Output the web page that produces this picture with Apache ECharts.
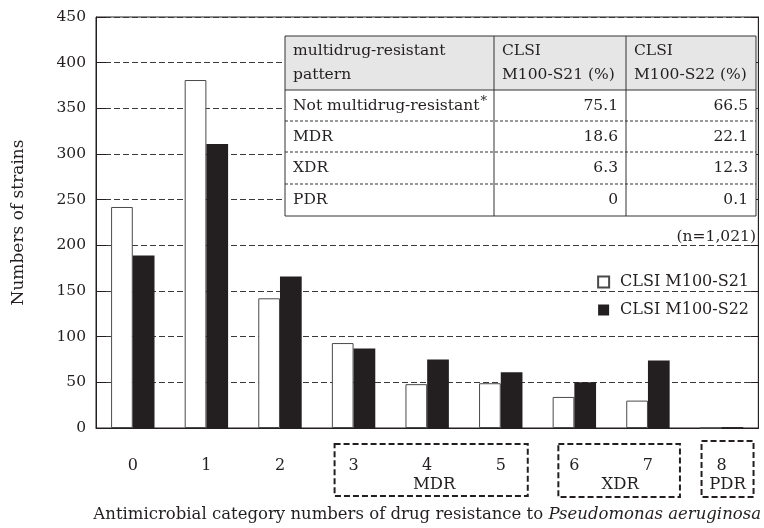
<!DOCTYPE html>
<html>
<head>
<meta charset="utf-8">
<script src="https://cdn.jsdelivr.net/npm/echarts@6/dist/echarts.min.js"></script>
<style>
  html, body { margin: 0; padding: 0; background: #fff; }
  #chart { width: 764px; height: 528px; }
</style>
</head>
<body>
<div id="chart"></div>
<script>
// category numbers 0..8 and strain counts
var categories = ['0', '1', '2', '3', '4', '5', '6', '7', '8'];
var s21Counts = [242, 381, 142, 93, 48, 49, 34, 30, 0];
var s22Counts = [189, 311, 166, 87, 75, 61, 50, 74, 1];
var seriesNames = ['CLSI M100-S21', 'CLSI M100-S22'];

// inset table
var tableHeader = [['multidrug-resistant', 'pattern'], ['CLSI', 'M100-S21 (%)'], ['CLSI', 'M100-S22 (%)']];
var patternNames = ['Not multidrug-resistant', 'MDR', 'XDR', 'PDR'];
var pctS21 = ['75.1', '18.6', '6.3', '0'];
var pctS22 = ['66.5', '22.1', '12.3', '0.1'];
var sampleNote = '(n=1,021)';

// groups drawn as dashed boxes under the axis
var groups = [
    {name: 'MDR', from: 3, to: 5},
    {name: 'XDR', from: 6, to: 7},
    {name: 'PDR', from: 8, to: 8}
];

var ink = '#231f20';
var font = 'DejaVu Serif';

var chart = echarts.init(document.getElementById('chart'));

var option = {
    animation: false,
    textStyle: {fontFamily: font, color: ink},
    grid: {left: 96, right: 2, top: 17, bottom: 100, show: true, borderColor: ink, borderWidth: 1, backgroundColor: 'transparent'},
    legend: {
        orient: 'vertical',
        right: 10,
        top: 269,
        itemWidth: 11,
        itemHeight: 11,
        itemGap: 12,
        icon: 'rect',
        textStyle: {fontFamily: font, fontSize: 16, color: ink, padding: [0, 0, 0, 6]},
        data: seriesNames
    },
    xAxis: {
        type: 'category',
        data: categories,
        axisLine: {lineStyle: {color: ink, width: 1}},
        axisTick: {inside: true, length: 8, lineStyle: {color: ink}},
        axisLabel: {fontFamily: font, fontSize: 16, color: ink, margin: 30},
        name: 'Antimicrobial category numbers of drug resistance to {i|Pseudomonas aeruginosa}',
        nameLocation: 'middle',
        nameGap: 78,
        nameTextStyle: {
            fontFamily: font, fontSize: 16.5, color: ink,
            rich: {i: {fontFamily: font, fontSize: 16.5, fontStyle: 'italic', color: ink}}
        }
    },
    yAxis: [{
        type: 'value',
        min: 0,
        max: 450,
        interval: 50,
        axisLine: {show: true, lineStyle: {color: ink}},
        axisTick: {show: true, inside: true, length: 10, lineStyle: {color: ink}},
        axisLabel: {fontFamily: font, fontSize: 15.5, color: ink, margin: 10},
        splitLine: {show: true, lineStyle: {color: '#3a3a3a', type: [6, 3], width: 1}},
        name: 'Numbers of strains',
        nameLocation: 'middle',
        nameGap: 69,
        nameTextStyle: {fontFamily: font, fontSize: 17, color: ink}
    }, {
        type: 'value',
        min: 0,
        max: 450,
        interval: 50,
        position: 'right',
        axisLine: {show: true, lineStyle: {color: ink}},
        axisTick: {show: true, inside: true, length: 8, lineStyle: {color: ink}},
        axisLabel: {show: false},
        splitLine: {show: false}
    }],
    series: [{
        name: seriesNames[0],
        type: 'bar',
        data: s21Counts,
        barGap: '0%',
        barCategoryGap: '41%',
        itemStyle: {color: '#ffffff', borderColor: '#4a4a4a', borderWidth: 1}
    }, {
        name: seriesNames[1],
        type: 'bar',
        data: s22Counts,
        itemStyle: {color: ink}
    }]
};

chart.setOption(option);

// ---- inset table ----
var tFont = '15.5px "' + font + '"';
var colX = [285, 494, 626, 756];
var rowY = [36, 90, 121, 152, 184, 216];
var tbl = [];
tbl.push({type: 'rect', shape: {x: colX[0], y: rowY[0], width: colX[3] - colX[0], height: rowY[1] - rowY[0]}, style: {fill: '#e6e6e6'}, z: 10});
tbl.push({type: 'rect', shape: {x: colX[0], y: rowY[1], width: colX[3] - colX[0], height: rowY[5] - rowY[1]}, style: {fill: '#fff'}, z: 10});
for (var c = 0; c < 3; c++) {
    tbl.push({type: 'text', x: colX[c] + 8, y: rowY[0] + 3, z: 12,
        style: {text: tableHeader[c].join('\n'), font: tFont, fill: ink, lineHeight: 24}});
}
for (var r = 0; r < patternNames.length; r++) {
    var yMid = (rowY[r + 1] + rowY[r + 2]) / 2;
    tbl.push({type: 'text', x: colX[0] + 8, y: yMid, z: 12,
        style: {text: patternNames[r] + (r === 0 ? '{s|*}' : ''), font: tFont, fill: ink, verticalAlign: 'middle',
            rich: {s: {fontSize: 13, fontFamily: font, fill: ink, padding: [0, 0, 8, 1]}}}});
    tbl.push({type: 'text', x: colX[2] - 8, y: yMid, z: 12,
        style: {text: pctS21[r], font: tFont, fill: ink, align: 'right', verticalAlign: 'middle'}});
    tbl.push({type: 'text', x: colX[3] - 8, y: yMid, z: 12,
        style: {text: pctS22[r], font: tFont, fill: ink, align: 'right', verticalAlign: 'middle'}});
}
// horizontal rules
tbl.push({type: 'line', shape: {x1: colX[0], y1: rowY[1], x2: colX[3], y2: rowY[1]}, style: {stroke: '#333', lineWidth: 1}, z: 13});
for (var k = 2; k < 5; k++) {
    tbl.push({type: 'line', shape: {x1: colX[0], y1: rowY[k], x2: colX[3], y2: rowY[k]}, style: {stroke: '#333', lineWidth: 1, lineDash: [3, 2]}, z: 13});
}
for (var v = 1; v < 3; v++) {
    tbl.push({type: 'line', shape: {x1: colX[v], y1: rowY[0], x2: colX[v], y2: rowY[5]}, style: {stroke: '#333', lineWidth: 1}, z: 13});
}
tbl.push({type: 'rect', shape: {x: colX[0], y: rowY[0], width: colX[3] - colX[0], height: rowY[5] - rowY[0]}, style: {fill: null, stroke: '#333', lineWidth: 1}, z: 14});
tbl.push({type: 'text', x: colX[3], y: 229, z: 12,
    style: {text: sampleNote, font: tFont, fill: ink, align: 'right'}});

// ---- dashed group boxes, placed from the category axis ----
var boxPad = {MDR: [19, 27, 444, 496, 7], XDR: [16, 32, 444, 497, 0], PDR: [20, 32, 441, 497, 6]};
var grp = [];
groups.forEach(function (g) {
    var x0 = chart.convertToPixel({xAxisIndex: 0}, categories[g.from]);
    var x1 = chart.convertToPixel({xAxisIndex: 0}, categories[g.to]);
    var p = boxPad[g.name];
    grp.push({type: 'rect', shape: {x: x0 - p[0], y: p[2], width: x1 + p[1] - x0 + p[0], height: p[3] - p[2]},
        style: {fill: null, stroke: ink, lineWidth: 2, lineDash: [6, 3]}, z: 5});
    var cx = g.from === g.to ? x0 + p[4] : (g.to - g.from === 2 ? chart.convertToPixel({xAxisIndex: 0}, categories[g.from + 1]) + p[4] : (x0 + x1) / 2 + 9);
    grp.push({type: 'text', x: cx, y: 485, z: 6,
        style: {text: g.name, font: '16.5px "' + font + '"', fill: ink, align: 'center', verticalAlign: 'middle'}});
});

chart.setOption({graphic: tbl.concat(grp)});
</script>
</body>
</html>
